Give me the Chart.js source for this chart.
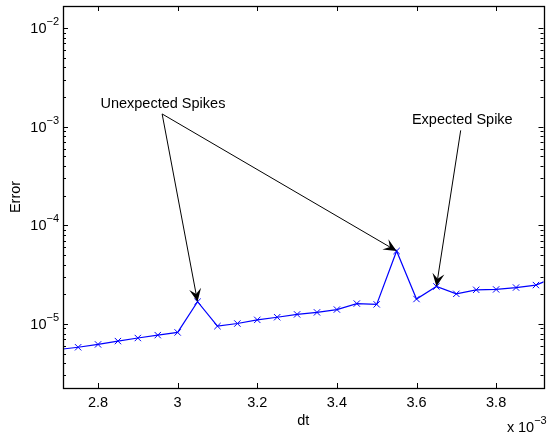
<!DOCTYPE html>
<html>
<head>
<meta charset="utf-8">
<script src="https://cdn.jsdelivr.net/npm/chart.js@4/dist/chart.umd.min.js"></script>
<style>
  html, body { margin: 0; padding: 0; background: #ffffff; }
  #wrap { width: 549px; height: 440px; }
</style>
</head>
<body>
<div id="wrap"><canvas id="chart-error"></canvas></div>
<script>
// dt values are in units of 1e-3 (axis shows "x 10^-3")
const dtValues = [
  2.70, 2.75, 2.80, 2.85, 2.90, 2.95, 3.00, 3.05, 3.10, 3.15, 3.20, 3.25, 3.30,
  3.35, 3.40, 3.45, 3.50, 3.55, 3.60, 3.65, 3.70, 3.75, 3.80, 3.85, 3.90, 3.95,
];
const errorValues = [
  5.5e-6, 5.8e-6, 6.2e-6, 6.7e-6, 7.2e-6, 7.7e-6, 8.2e-6, 1.68e-5, 9.5e-6,
  1.01e-5, 1.1e-5, 1.17e-5, 1.25e-5, 1.31e-5, 1.4e-5, 1.61e-5, 1.58e-5,
  5.5e-5, 1.79e-5, 2.4e-5, 2.02e-5, 2.22e-5, 2.24e-5, 2.34e-5, 2.48e-5, 3.0e-5,
];
const xTickValues = [2.8, 3.0, 3.2, 3.4, 3.6, 3.8];
const yDecadeExponents = [-5, -4, -3, -2];

// annotations: label, text centre, arrow tail, index of the point the arrow hits
const annotationLabels = ["Unexpected Spikes", "Expected Spike"];
const annotationTextPos = [[2.963, 1.72e-3], [3.715, 1.16e-3]];
const arrowTails = [[2.961, 1.35e-3], [2.961, 1.35e-3], [3.711, 9.2e-4]];
const arrowTargets = [7, 17, 19];

const FONT = '"Liberation Sans", Arial, Helvetica, sans-serif';
const FS = 14.5;

function drawArrow(ctx, x0, y0, x1, y1) {
  const ang = Math.atan2(y1 - y0, x1 - x0);
  const L = 13, W = 6;
  const c = Math.cos(ang), s = Math.sin(ang);
  const pt = (dx, dy) => [x1 + dx * c - dy * s, y1 + dx * s + dy * c];
  const notch = pt(-0.6 * L, 0);
  ctx.beginPath();
  ctx.moveTo(x0, y0);
  ctx.lineTo(notch[0], notch[1]);
  ctx.stroke();
  const a = pt(-L, -W), b = pt(-L, W);
  ctx.beginPath();
  ctx.moveTo(x1, y1);
  ctx.lineTo(a[0], a[1]);
  ctx.lineTo(notch[0], notch[1]);
  ctx.lineTo(b[0], b[1]);
  ctx.closePath();
  ctx.fill();
}

function drawPower(ctx, x, y, exp, align) {
  // "10" with a superscript exponent
  const base = "10", sup = "\u2212" + Math.abs(exp);
  ctx.font = FS + "px " + FONT;
  const wb = ctx.measureText(base).width;
  ctx.font = "11px " + FONT;
  const ws = ctx.measureText(sup).width;
  const start = align === "left" ? x : x - wb - ws;
  ctx.textAlign = "left";
  ctx.textBaseline = "middle";
  ctx.font = FS + "px " + FONT;
  ctx.fillText(base, start, y + 1);
  ctx.font = "11px " + FONT;
  ctx.fillText(sup, start + wb, y - 6);
}

const matlabAxes = {
  id: "matlabAxes",
  afterDraw(chart) {
    const ctx = chart.ctx;
    const { left, right, top, bottom } = chart.chartArea;
    const xs = chart.scales.x, ys = chart.scales.y;
    ctx.save();
    ctx.strokeStyle = "#000000";
    ctx.fillStyle = "#000000";

    // box
    ctx.lineWidth = 1.3;
    ctx.strokeRect(Math.round(left) + 0.5, Math.round(top) + 0.5,
      Math.round(right - left), Math.round(bottom - top));
    ctx.lineWidth = 1;

    // x ticks, bottom and top, pointing in
    xTickValues.forEach((v) => {
      const px = Math.round(xs.getPixelForValue(v)) + 0.5;
      ctx.beginPath();
      ctx.moveTo(px, bottom); ctx.lineTo(px, bottom - 5);
      ctx.moveTo(px, top); ctx.lineTo(px, top + 5);
      ctx.stroke();
    });

    // y ticks: decades and minors, left and right
    for (let e = -6; e <= -2; e++) {
      for (let m = 1; m <= 9; m++) {
        const v = m * Math.pow(10, e);
        if (v < ys.min || v > ys.max) continue;
        const py = Math.round(ys.getPixelForValue(v)) + 0.5;
        const len = m === 1 ? 5 : 3;
        ctx.beginPath();
        ctx.moveTo(left, py); ctx.lineTo(left + len, py);
        ctx.moveTo(right, py); ctx.lineTo(right - len, py);
        ctx.stroke();
      }
    }

    // y decade labels
    yDecadeExponents.forEach((e) => {
      const py = ys.getPixelForValue(Math.pow(10, e));
      drawPower(ctx, left - 4, py, e, "right");
    });

    // axis titles
    ctx.font = FS + "px " + FONT;
    ctx.textAlign = "center";
    ctx.textBaseline = "middle";
    ctx.fillText("dt", (left + right) / 2, 421);
    ctx.save();
    ctx.translate(16, (top + bottom) / 2);
    ctx.rotate(-Math.PI / 2);
    ctx.fillText("Error", 0, 0);
    ctx.restore();

    // x multiplier
    ctx.textAlign = "left";
    ctx.fillText("x", 507, 428);
    drawPower(ctx, 518, 427, -3, "left");

    // annotations
    ctx.font = FS + "px " + FONT;
    ctx.textAlign = "center";
    ctx.textBaseline = "middle";
    annotationLabels.forEach((t, i) => {
      const [vx, vy] = annotationTextPos[i];
      ctx.fillText(t, xs.getPixelForValue(vx), ys.getPixelForValue(vy));
    });
    arrowTails.forEach((tail, i) => {
      const k = arrowTargets[i];
      drawArrow(ctx,
        xs.getPixelForValue(tail[0]), ys.getPixelForValue(tail[1]),
        xs.getPixelForValue(dtValues[k]), ys.getPixelForValue(errorValues[k]));
    });
    ctx.restore();
  },
};

const chartError = document.querySelector("#chart-error").getContext("2d");

new Chart(chartError, {
  type: "line",
  data: {
    datasets: [
      {
        data: dtValues.map((x, i) => ({ x: x, y: errorValues[i] })),
        borderColor: "#0000ff",
        borderWidth: 1.2,
        pointStyle: "crossRot",
        pointRadius: 4.5,
        pointBorderColor: "#0000ff",
        pointBorderWidth: 1,
        tension: 0,
        fill: false,
        clip: 0,
      },
    ],
  },
  options: {
    responsive: true,
    maintainAspectRatio: false,
    animation: false,
    devicePixelRatio: 1,
    layout: { padding: { top: 6, right: 1, left: 0, bottom: 0 } },
    plugins: { legend: { display: false }, tooltip: { enabled: false } },
    scales: {
      x: {
        type: "linear",
        min: 2.712,
        max: 3.919,
        grid: { display: false, drawTicks: false },
        border: { display: false },
        afterBuildTicks: (s) => { s.ticks = xTickValues.map((v) => ({ value: v })); },
        afterFit: (s) => { s.height = 52; },
        ticks: {
          padding: 6,
          color: "#000000",
          font: { family: FONT, size: FS },
          maxRotation: 0,
          callback: (v) => String(+v.toFixed(1)),
        },
      },
      y: {
        type: "logarithmic",
        min: 2.24e-6,
        max: 1.68e-2,
        grid: { display: false, drawTicks: false },
        border: { display: false },
        ticks: { display: false },
        afterFit: (s) => { s.width = 63; },
      },
    },
  },
  plugins: [matlabAxes],
});
</script>
</body>
</html>
